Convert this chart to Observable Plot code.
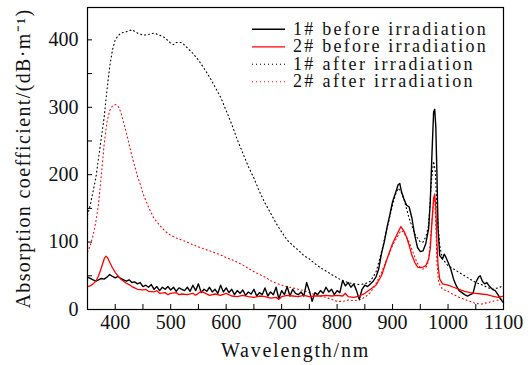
<!DOCTYPE html>
<html><head><meta charset="utf-8">
<script src="https://cdn.jsdelivr.net/npm/d3@7"></script>
<script src="https://cdn.jsdelivr.net/npm/@observablehq/plot@0.6"></script>
<style>
body{margin:0;background:#fff;}
#wrap{position:relative;width:531px;height:365px;}
#legend{position:absolute;left:0;top:0;pointer-events:none;}
</style>
</head><body><div id="wrap"></div>
<script>
// ---- data (wavelength in nm, absorption coefficient in dB/m) ----
const wl_1before = [350,355,360,365,370,375,380,385,390,395,400,405,410,415,420,425,430,435,440,445,450,455,460,465,470,475,480,485,490,495,500,505,510,515,520,525,530,535,540,545,550,555,560,565,570,575,580,585,590,595,600,605,610,615,620,625,630,635,640,645,650,655,660,665,670,675,680,685,690,695,700,705,710,715,720,725,730,735,740,745,750,755,760,765,770,775,780,785,790,795,800,805,810,815,820,825,830,835,840,845,850,855,860,865,870,875,880,885,890,895,900,905,910,913,916,920,925,930,935,940,945,950,955,960,965,968,971,974,976,978,980,982,985,990,993,996,1000,1005,1010,1015,1020,1025,1030,1035,1040,1045,1050,1055,1058,1062,1066,1070,1075,1080,1085,1090,1095,1100];
const ab_1before = [48,46,44,42,44,46,45,48,52,49,47,49,46,44,42,44,40,41,38,40,34,36,33,37,30,34,28,33,30,34,29,33,27,32,30,28,33,27,36,28,38,25,30,27,33,26,30,24,36,26,32,25,30,22,28,24,29,21,26,23,30,20,25,22,32,20,26,22,33,16,28,22,34,20,30,24,22,26,20,40,28,12,25,22,28,24,33,26,30,22,28,25,43,35,40,33,38,28,15,30,36,34,38,42,48,60,83,100,122,140,160,172,185,187,175,165,155,152,135,110,92,86,87,98,120,160,230,293,297,270,200,120,80,75,82,78,70,60,45,35,28,25,22,20,22,24,40,48,50,42,38,40,34,30,28,22,15,10];

const wl_2before = [350,355,360,365,370,375,380,383,386,390,395,400,405,410,415,420,425,430,435,440,450,455,460,470,475,480,490,495,500,510,515,520,530,540,545,555,560,570,580,590,600,610,620,630,640,650,660,670,680,690,695,700,710,720,730,740,750,760,770,780,790,800,810,815,820,830,840,850,860,870,880,890,900,910,915,920,925,930,935,940,945,950,955,960,965,968,971,974,976,978,980,982,985,990,1000,1010,1020,1030,1040,1050,1060,1070,1080,1090,1100];
const ab_2before = [34,35,38,42,50,62,75,79,77,70,62,55,50,45,42,39,37,34,32,30,29,30,27,26,28,24,25,22,24,25,22,23,22,24,21,27,25,21,23,21,24,20,19,21,19,18,20,19,17,18,15,19,21,20,19,21,19,20,20,21,20,21,20,24,19,18,20,24,30,36,50,75,98,115,123,117,108,95,80,70,63,62,63,65,75,90,130,165,171,150,100,65,45,38,36,33,30,27,25,24,23,22,20,18,20];

const wl_1after = [350,355,360,365,370,375,380,385,390,395,400,405,410,420,430,440,450,460,470,480,490,500,505,510,520,530,540,550,560,570,580,590,600,610,620,630,640,650,660,670,680,690,700,710,720,730,740,750,760,770,780,790,800,810,820,830,840,850,860,870,880,890,900,905,910,915,920,925,930,940,950,955,960,965,970,974,977,980,985,990,1000,1010,1020,1030,1040,1050,1060,1070,1080,1090,1100];
const ab_1after = [140,155,175,195,225,255,285,325,360,385,400,406,410,412,415,410,407,408,410,407,403,395,393,396,396,388,380,370,358,345,330,315,295,275,252,232,212,195,175,158,143,128,115,103,95,88,80,75,68,62,57,52,47,43,40,38,37,38,42,55,85,120,155,170,180,175,165,150,135,112,100,100,108,125,190,220,205,150,95,75,65,60,55,50,45,40,37,33,30,32,35];

const wl_2after = [350,355,360,365,370,375,380,385,390,395,400,405,410,415,420,425,430,435,440,445,450,460,470,480,490,500,510,520,530,540,550,560,570,580,590,600,610,620,630,640,650,660,670,680,690,700,710,720,730,740,750,760,770,780,790,800,810,820,830,840,850,860,870,880,890,900,910,915,920,930,940,945,950,955,960,965,970,974,976,978,980,983,990,1000,1010,1020,1030,1040,1050,1060,1070,1080,1090,1100];
const ab_2after = [85,95,110,130,157,200,245,278,295,302,304,302,293,278,262,245,228,213,198,186,172,152,135,125,116,110,106,103,100,96,93,90,87,84,81,77,74,70,66,61,56,52,48,43,39,36,34,32,30,28,25,22,20,18,15,12,12,14,13,14,18,25,38,55,75,95,110,117,115,100,78,68,62,60,62,72,120,160,165,130,70,40,30,27,22,18,15,12,9,8,10,12,14,16];

const seriesNames = ["1# before irradiation","2# before irradiation","1# after irradiation","2# after irradiation"];
const xMajor = [400,500,600,700,800,900,1000,1100];
const xMinor = [450,550,650,750,850,950,1050];
const yMajor = [0,100,200,300,400];
const yMinor = [50,150,250,350];
const xTitle = "Wavelength/nm";
const yTitle = "Absorption coefficient/(dB·m⁻¹)";

// ---- build table ----
const pairs = [[wl_1before,ab_1before],[wl_2before,ab_2before],[wl_1after,ab_1after],[wl_2after,ab_2after]];
const styles = [
  {stroke:"#000", dash:null, width:1.4},
  {stroke:"#ff0000", dash:null, width:1.3},
  {stroke:"#000", dash:"1,3", width:1.1},
  {stroke:"#ff0000", dash:"1,3", width:1.1}
];
const rows = pairs.flatMap(([w,a],k)=> w.map((v,i)=>({series:seriesNames[k], wl:v, ab:a[i]})));

const FONT = '"Liberation Serif", "Times New Roman", serif';
const fmt = d => String(d);
const marks = [
  Plot.axisX({ticks:xMinor, tickSize:5, dy:-5, tickFormat:()=>"", stroke:"#000"}),
  Plot.axisX({ticks:xMajor, tickSize:5, dy:-5, tickFormat:()=>"", stroke:"#000"}),
  Plot.axisX({ticks:xMajor, tickSize:0, tickPadding:5, tickFormat:fmt, fontSize:20, fill:"#111"}),
  Plot.axisY({ticks:yMinor, tickSize:5, dx:5, tickFormat:()=>"", stroke:"#000"}),
  Plot.axisY({ticks:yMajor, tickSize:5, dx:5, tickFormat:()=>"", stroke:"#000"}),
  Plot.axisY({ticks:yMajor, tickSize:0, tickPadding:9, tickFormat:fmt, fontSize:20, fill:"#111"}),
];
[2,3,0,1].forEach(k=>{
  const s = styles[k];
  marks.push(Plot.line(rows.filter(r=>r.series===seriesNames[k]), {
    x:"wl", y:"ab", stroke:s.stroke, strokeWidth:s.width,
    strokeDasharray:s.dash, strokeLinejoin:"round", curve:"linear"
  }));
});
marks.push(Plot.frame({stroke:"#000", strokeWidth:1.2}));
marks.push(Plot.text([xTitle], {frameAnchor:"bottom", dy:41, text:d=>d, fontSize:20, fill:"#111", lineAnchor:"middle", textAnchor:"middle"}));
marks.push(Plot.text([yTitle], {frameAnchor:"left", dx:-64, rotate:-90, text:d=>d, fontSize:20, fill:"#111", lineAnchor:"middle", textAnchor:"middle"}));

const chart = Plot.plot({
  width:531, height:365,
  marginLeft:87, marginRight:28, marginTop:7, marginBottom:56,
  x:{domain:[350,1100], label:null},
  y:{domain:[0,448], label:null},
  style:{fontFamily:FONT, fontSize:"20px", background:"#fff", color:"#000"},
  marks
});
const wrap = document.getElementById("wrap");
wrap.appendChild(chart);

function fitWidth(el, target){
  const n = el.textContent.length;
  const len = el.getComputedTextLength();
  if (n > 1) el.style.letterSpacing = ((target - len) / n).toFixed(2) + "px";
}
d3.select(chart).selectAll("text").each(function(){
  if (this.textContent === xTitle) fitWidth(this, 149);
  if (this.textContent === yTitle) fitWidth(this, 300);
});

// ---- legend overlay ----
const ns = "http://www.w3.org/2000/svg";
const lg = document.createElementNS(ns,"svg");
lg.setAttribute("id","legend"); lg.setAttribute("width",531); lg.setAttribute("height",365);
const lineY = [29.3,46.8,64.3,81.8];
wrap.appendChild(lg);
seriesNames.forEach((name,k)=>{
  const s = styles[k];
  const ln = document.createElementNS(ns,"line");
  ln.setAttribute("x1",252); ln.setAttribute("x2",285);
  ln.setAttribute("y1",lineY[k]); ln.setAttribute("y2",lineY[k]);
  ln.setAttribute("stroke",s.stroke); ln.setAttribute("stroke-width",s.width);
  if (s.dash) ln.setAttribute("stroke-dasharray",s.dash);
  lg.appendChild(ln);
  const t = document.createElementNS(ns,"text");
  t.setAttribute("x",293); t.setAttribute("y",lineY[k]+5.6);
  t.setAttribute("font-family",FONT); t.setAttribute("font-size","18");
  t.setAttribute("fill","#111");
  t.textContent = name;
  lg.appendChild(t);
  fitWidth(t, k < 2 ? 195 : 182);
});
</script>
</body></html>
